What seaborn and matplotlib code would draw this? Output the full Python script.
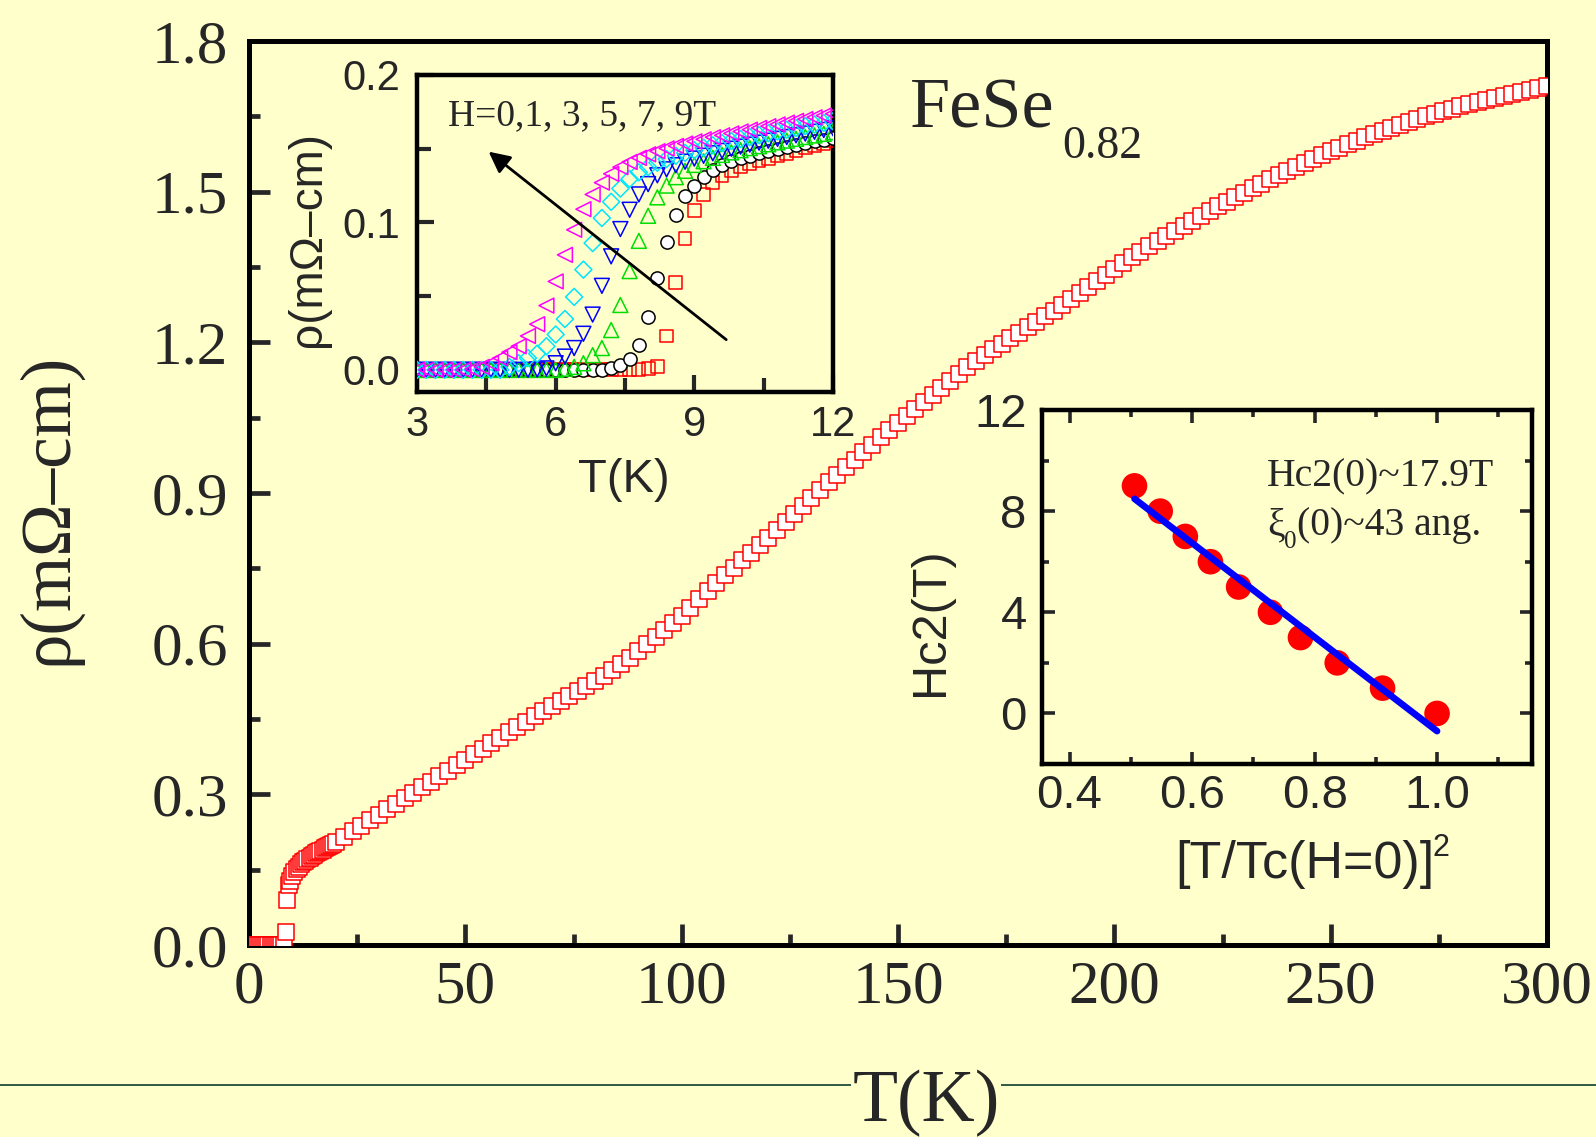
import matplotlib
matplotlib.use("Agg")
import matplotlib.pyplot as plt
from matplotlib.lines import Line2D
from matplotlib.ticker import MultipleLocator, FixedLocator
import numpy as np
import pandas as pd
import seaborn as sns

# ---------------- data ----------------
# main panel: resistivity of FeSe0.82 versus temperature
temp_main = [
    1.0, 1.5, 2.0, 2.5, 3.0, 3.5, 4.0, 4.5, 5.0, 5.5, 6.0, 6.5, 7.0, 7.5,
    8.2, 8.5, 8.85, 9.2, 9.5,
    10.0, 10.5, 11.0, 11.5, 12.0, 12.5, 13.0, 13.5, 14.0, 14.5,
    15.0, 15.5, 16.0, 16.5, 17.0, 17.5, 18.0, 18.5, 19.0, 19.5,
    20, 22, 24, 26, 28, 30, 32, 34, 36, 38,
    40, 42, 44, 46, 48, 50, 52, 54, 56, 58,
    60, 62, 64, 66, 68, 70, 72, 74, 76, 78,
    80, 82, 84, 86, 88, 90, 92, 94, 96, 98,
    100, 102, 104, 106, 108, 110, 112, 114, 116, 118,
    120, 122, 124, 126, 128, 130, 132, 134, 136, 138,
    140, 142, 144, 146, 148, 150, 152, 154, 156, 158,
    160, 162, 164, 166, 168, 170, 172, 174, 176, 178,
    180, 182, 184, 186, 188, 190, 192, 194, 196, 198,
    200, 202, 204, 206, 208, 210, 212, 214, 216, 218,
    220, 222, 224, 226, 228, 230, 232, 234, 236, 238,
    240, 242, 244, 246, 248, 250, 252, 254, 256, 258,
    260, 262, 264, 266, 268, 270, 272, 274, 276, 278,
    280, 282, 284, 286, 288, 290, 292, 294, 296, 298,
    300,
]
rho_main = [
    0.0, 0.0, 0.0, 0.0, 0.0, 0.0, 0.0, 0.0, 0.0, 0.0, 0.0, 0.0, 0.0, 0.0,
    0.0, 0.025, 0.090, 0.119, 0.127,
    0.138, 0.145, 0.151, 0.156, 0.161, 0.165, 0.168, 0.171, 0.174, 0.177,
    0.180, 0.183, 0.185, 0.188, 0.190, 0.193, 0.195, 0.198, 0.200, 0.202,
    0.205, 0.215, 0.226, 0.237, 0.248, 0.259, 0.270, 0.281, 0.292, 0.303,
    0.314, 0.325, 0.336, 0.347, 0.358, 0.369, 0.380, 0.391, 0.402, 0.413,
    0.424, 0.435, 0.445, 0.455, 0.465, 0.475, 0.485, 0.495, 0.505, 0.515,
    0.525, 0.536, 0.547, 0.559, 0.572, 0.585, 0.599, 0.613, 0.627, 0.641,
    0.656, 0.672, 0.688, 0.704, 0.720, 0.736, 0.751, 0.766, 0.781, 0.796,
    0.811, 0.827, 0.843, 0.859, 0.875, 0.891, 0.906, 0.921, 0.936, 0.951,
    0.966, 0.981, 0.996, 1.011, 1.026, 1.040, 1.054, 1.068, 1.082, 1.096,
    1.110, 1.124, 1.137, 1.150, 1.162, 1.174, 1.186, 1.197, 1.208, 1.219,
    1.230, 1.241, 1.252, 1.263, 1.275, 1.287, 1.299, 1.311, 1.323, 1.335,
    1.347, 1.358, 1.369, 1.380, 1.391, 1.402, 1.412, 1.422, 1.432, 1.442,
    1.452, 1.462, 1.471, 1.480, 1.489, 1.498, 1.507, 1.516, 1.525, 1.534,
    1.542, 1.550, 1.558, 1.566, 1.573, 1.580, 1.587, 1.594, 1.601, 1.608,
    1.615, 1.621, 1.627, 1.633, 1.639, 1.645, 1.650, 1.655, 1.660, 1.665,
    1.670, 1.675, 1.679, 1.683, 1.687, 1.691, 1.695, 1.699, 1.703, 1.707,
    1.711,
]

# upper inset: low-temperature transition in applied fields
temp_inset = [
    3.0, 3.2, 3.4, 3.6, 3.8, 4.0, 4.2, 4.4, 4.6, 4.8,
    5.0, 5.2, 5.4, 5.6, 5.8, 6.0, 6.2, 6.4, 6.6, 6.8,
    7.0, 7.2, 7.4, 7.6, 7.8, 8.0, 8.2, 8.4, 8.6, 8.8,
    9.0, 9.2, 9.4, 9.6, 9.8, 10.0, 10.2, 10.4, 10.6, 10.8,
    11.0, 11.2, 11.4, 11.6, 11.8, 12.0,
]
rho_h0 = [
    0.0, 0.0, 0.0, 0.0, 0.0, 0.0, 0.0, 0.0, 0.0, 0.0,
    0.0, 0.0, 0.0, 0.0, 0.0, 0.0, 0.0, 0.0, 0.0, 0.0,
    0.0, 0.0, 0.0, 0.0, 0.0, 0.0008, 0.0023, 0.023, 0.059, 0.089,
    0.108, 0.119, 0.127, 0.132, 0.1355, 0.138, 0.140, 0.142, 0.1435, 0.145,
    0.147, 0.149, 0.1505, 0.152, 0.1537, 0.1555,
]
rho_h1 = [
    0.0, 0.0, 0.0, 0.0, 0.0, 0.0, 0.0, 0.0, 0.0, 0.0,
    0.0, 0.0, 0.0, 0.0, 0.0, 0.0, 0.0, 0.0, 0.0, 0.0,
    0.0, 0.001, 0.0034, 0.0073, 0.017, 0.036, 0.0625, 0.0868, 0.105, 0.118,
    0.125, 0.131, 0.1355, 0.139, 0.1415, 0.1435, 0.1452, 0.1468, 0.1483, 0.1497,
    0.151, 0.1523, 0.1536, 0.1549, 0.1562, 0.1575,
]
rho_h3 = [
    0.0, 0.0, 0.0, 0.0, 0.0, 0.0, 0.0, 0.0, 0.0, 0.0,
    0.0, 0.0, 0.0, 0.0, 0.0, 0.0, 0.0008, 0.002, 0.0045, 0.010,
    0.0148, 0.027, 0.044, 0.067, 0.0875, 0.1045, 0.117, 0.125, 0.1307, 0.135,
    0.139, 0.1415, 0.1438, 0.1458, 0.1475, 0.149, 0.1504, 0.1517, 0.153, 0.1543,
    0.1555, 0.1567, 0.1579, 0.159, 0.1601, 0.1612,
]
rho_h5 = [
    0.0, 0.0, 0.0, 0.0, 0.0, 0.0, 0.0, 0.0, 0.0, 0.0,
    0.0, 0.0, 0.0, 0.0003, 0.001, 0.0045, 0.009, 0.0148, 0.0245, 0.0375,
    0.057, 0.077, 0.0955, 0.1086, 0.119, 0.126, 0.132, 0.136, 0.1388, 0.1412,
    0.1433, 0.1452, 0.1469, 0.1485, 0.150, 0.1514, 0.1528, 0.1541, 0.1554, 0.1567,
    0.1579, 0.1591, 0.1603, 0.1615, 0.1627, 0.1639,
]
rho_h7 = [
    0.0, 0.0, 0.0, 0.0, 0.0, 0.0, 0.0, 0.0, 0.0, 0.0,
    0.002, 0.0045, 0.008, 0.011, 0.016, 0.024, 0.0345, 0.0495, 0.068, 0.086,
    0.103, 0.114, 0.123, 0.1295, 0.134, 0.1375, 0.1405, 0.143, 0.1452, 0.1472,
    0.149, 0.1507, 0.1523, 0.1538, 0.1552, 0.1566, 0.1579, 0.1592, 0.1605, 0.1617,
    0.1629, 0.1641, 0.1653, 0.1664, 0.1675, 0.1686,
]
rho_h9 = [
    0.0, 0.0, 0.0, 0.0, 0.0, 0.0, 0.0005, 0.002, 0.0045, 0.008,
    0.012, 0.016, 0.023, 0.031, 0.0436, 0.060, 0.078, 0.095, 0.109, 0.119,
    0.127, 0.133, 0.1375, 0.141, 0.1438, 0.1462, 0.1483, 0.1502, 0.1519, 0.1535,
    0.155, 0.1564, 0.1578, 0.1591, 0.1604, 0.1617, 0.1629, 0.1641, 0.1653, 0.1665,
    0.1677, 0.1689, 0.1701, 0.1713, 0.1725, 0.1737,
]
field_values = [0, 1, 3, 5, 7, 9]
field_curves = [rho_h0, rho_h1, rho_h3, rho_h5, rho_h7, rho_h9]

# lower inset: upper critical field versus reduced temperature squared
t_reduced_sq = [0.506, 0.548, 0.589, 0.630, 0.676, 0.728, 0.777, 0.837, 0.911, 1.0]
hc2_values = [9, 8, 7, 6, 5, 4, 3, 2, 1, 0]
hc2_zero = 17.9        # Hc2(0) from the linear fit
hc2_fit_slope = -18.6  # slope of the linear fit

# ---------------- style ----------------
BG = "#FFFFCC"
SERIF = ["Liberation Serif", "DejaVu Serif"]
SANS = ["Liberation Sans", "DejaVu Sans"]

sns.set_style("ticks")
plt.rcParams["font.family"] = SANS
plt.rcParams["axes.facecolor"] = BG
plt.rcParams["figure.facecolor"] = BG
plt.rcParams["axes.edgecolor"] = "black"

W, H = 1596, 1137
fig = plt.figure(figsize=(W / 100, H / 100), dpi=100)


def fx(px):
    return px / W


def fy(py):
    return 1 - py / H


def axes_at(left, top, right, bottom):
    return fig.add_axes([fx(left), fy(bottom), fx(right) - fx(left), fy(top) - fy(bottom)])


# ---------------- main panel ----------------
ax = axes_at(249, 41, 1547, 945)
main_df = pd.DataFrame({"T": temp_main, "rho": rho_main})
sns.scatterplot(data=main_df, x="T", y="rho", ax=ax, marker="s", s=125,
                facecolor="white", edgecolor="red", linewidth=1.1, zorder=3)
ax.set_xlim(0, 300)
ax.set_ylim(0, 1.8)
ax.xaxis.set_major_locator(MultipleLocator(50))
ax.xaxis.set_minor_locator(MultipleLocator(25))
ax.yaxis.set_major_locator(MultipleLocator(0.3))
ax.yaxis.set_minor_locator(MultipleLocator(0.15))
ax.yaxis.set_major_formatter(matplotlib.ticker.FormatStrFormatter("%.1f"))
for s in ax.spines.values():
    s.set_linewidth(3.6)
ax.tick_params(which="both", direction="in", width=3.4, top=False, right=False)
ax.tick_params(which="major", length=15)
ax.tick_params(which="minor", length=8)
ax.tick_params(axis="y", pad=15)
ax.tick_params(axis="x", pad=11)
for lab in ax.get_xticklabels() + ax.get_yticklabels():
    lab.set_family(SERIF)
    lab.set_fontsize(44)
ax.set_xlabel("")
ax.set_ylabel("")

fig.text(fx(49), fy(509), "ρ(mΩ–cm)", rotation=90, ha="center", va="center",
         fontsize=51, family=SERIF)
fig.add_artist(Line2D([0, 1], [fy(1085), fy(1085)], transform=fig.transFigure,
                      color="#1f4d3a", lw=1.3, zorder=1))
fig.text(fx(926), fy(1121), "T(K)", ha="center", va="baseline", fontsize=53,
         family=SERIF, zorder=5,
         bbox=dict(facecolor=BG, edgecolor="none", pad=1))

fig.text(fx(910), fy(128), "FeSe", ha="left", va="baseline", fontsize=52, family=SERIF)
fig.text(fx(1062), fy(158), "0.82", ha="left", va="baseline", fontsize=33, family=SERIF)

# ---------------- upper inset ----------------
ax1 = axes_at(417, 75, 833, 392)
ax1.set_zorder(4)
styles = [
    ("s", "red", "none", 85),
    ("o", "black", "white", 90),
    ("^", "#00DD00", "none", 115),
    ("v", "blue", "none", 115),
    ("D", "#00E5FF", "none", 75),
    ("<", "magenta", "none", 115),
]
for field, curve, (mk, ec, fc, size) in zip(field_values, field_curves, styles):
    df = pd.DataFrame({"T": temp_inset, "rho": curve})
    sns.scatterplot(data=df, x="T", y="rho", ax=ax1, marker=mk, s=size,
                    facecolor=fc, edgecolor=ec, linewidth=1.1, zorder=3)
ax1.set_xlim(3, 12)
ax1.set_ylim(-0.015, 0.2)
ax1.xaxis.set_major_locator(MultipleLocator(3))
ax1.xaxis.set_minor_locator(MultipleLocator(1.5))
ax1.yaxis.set_major_locator(MultipleLocator(0.1))
ax1.yaxis.set_minor_locator(MultipleLocator(0.05))
for s in ax1.spines.values():
    s.set_linewidth(3.2)
ax1.tick_params(which="both", direction="in", width=3.0)
ax1.tick_params(which="major", length=12)
ax1.tick_params(which="minor", length=10)
ax1.tick_params(axis="y", pad=12, labelsize=30)
ax1.tick_params(axis="x", pad=9, labelsize=30)
ax1.set_xlabel("")
ax1.set_ylabel("")
ax1.annotate("", xy=(4.55, 0.148), xytext=(9.69, 0.0205),
             arrowprops=dict(arrowstyle="-|>", color="black", lw=2.0,
                             mutation_scale=32, shrinkA=0, shrinkB=0))
fig.text(fx(448), fy(125), "H=0,1, 3, 5, 7, 9T", ha="left", va="baseline",
         fontsize=27, family=SERIF, zorder=6)
fig.text(fx(624), fy(492), "T(K)", ha="center", va="baseline", fontsize=34)
fig.text(fx(308), fy(239), "ρ(mΩ–cm)", rotation=90, ha="center", va="center",
         fontsize=33)

# ---------------- lower inset ----------------
ax2 = axes_at(1042, 410, 1532, 764)
ax2.set_zorder(4)
hc_df = pd.DataFrame({"t2": t_reduced_sq, "Hc2": hc2_values})
sns.scatterplot(data=hc_df, x="t2", y="Hc2", ax=ax2, marker="o", s=340,
                color="red", edgecolor="none", linewidth=0, zorder=3)
fit_x = np.array([min(t_reduced_sq), max(t_reduced_sq)])
fit_df = pd.DataFrame({"t2": fit_x, "Hc2": hc2_zero + hc2_fit_slope * fit_x})
sns.lineplot(data=fit_df, x="t2", y="Hc2", ax=ax2, color="blue", lw=4.8,
             zorder=4, solid_capstyle="round")
ax2.set_xlim(0.355, 1.155)
ax2.set_ylim(-2, 12)
ax2.xaxis.set_major_locator(FixedLocator([0.4, 0.6, 0.8, 1.0]))
ax2.xaxis.set_minor_locator(FixedLocator([0.5, 0.7, 0.9, 1.1]))
ax2.yaxis.set_major_locator(MultipleLocator(4))
ax2.yaxis.set_minor_locator(MultipleLocator(2))
ax2.xaxis.set_major_formatter(matplotlib.ticker.FormatStrFormatter("%.1f"))
for s in ax2.spines.values():
    s.set_linewidth(3.2)
ax2.tick_params(which="both", direction="in", width=2.6, top=True, right=True)
ax2.tick_params(which="major", length=9)
ax2.tick_params(which="minor", length=5)
ax2.tick_params(axis="y", pad=11, labelsize=34)
ax2.tick_params(axis="x", pad=7, labelsize=34)
ax2.set_xlabel("")
ax2.set_ylabel("")
fig.text(fx(930), fy(622), "Hc2(T)", rotation=90, ha="center", va="center", fontsize=35)
fig.text(fx(1175), fy(878), "[T/Tc(H=0)]", ha="left", va="baseline", fontsize=37.5)
fig.text(fx(1432), fy(856), "2", ha="left", va="baseline", fontsize=22)

fig.text(fx(1267), fy(486), "Hc2(0)~17.9T", ha="left", va="baseline",
         fontsize=28.5, family=SERIF, zorder=6)
fig.text(fx(1267), fy(535), "ξ", ha="left", va="baseline",
         fontsize=28.5, family=SERIF, zorder=6)
fig.text(fx(1284), fy(548), "0", ha="left", va="baseline",
         fontsize=18, family=SERIF, zorder=6)
fig.text(fx(1297), fy(535), "(0)~43 ang.", ha="left", va="baseline",
         fontsize=28.5, family=SERIF, zorder=6)

fig.savefig("out.png", dpi=100, facecolor=BG)
